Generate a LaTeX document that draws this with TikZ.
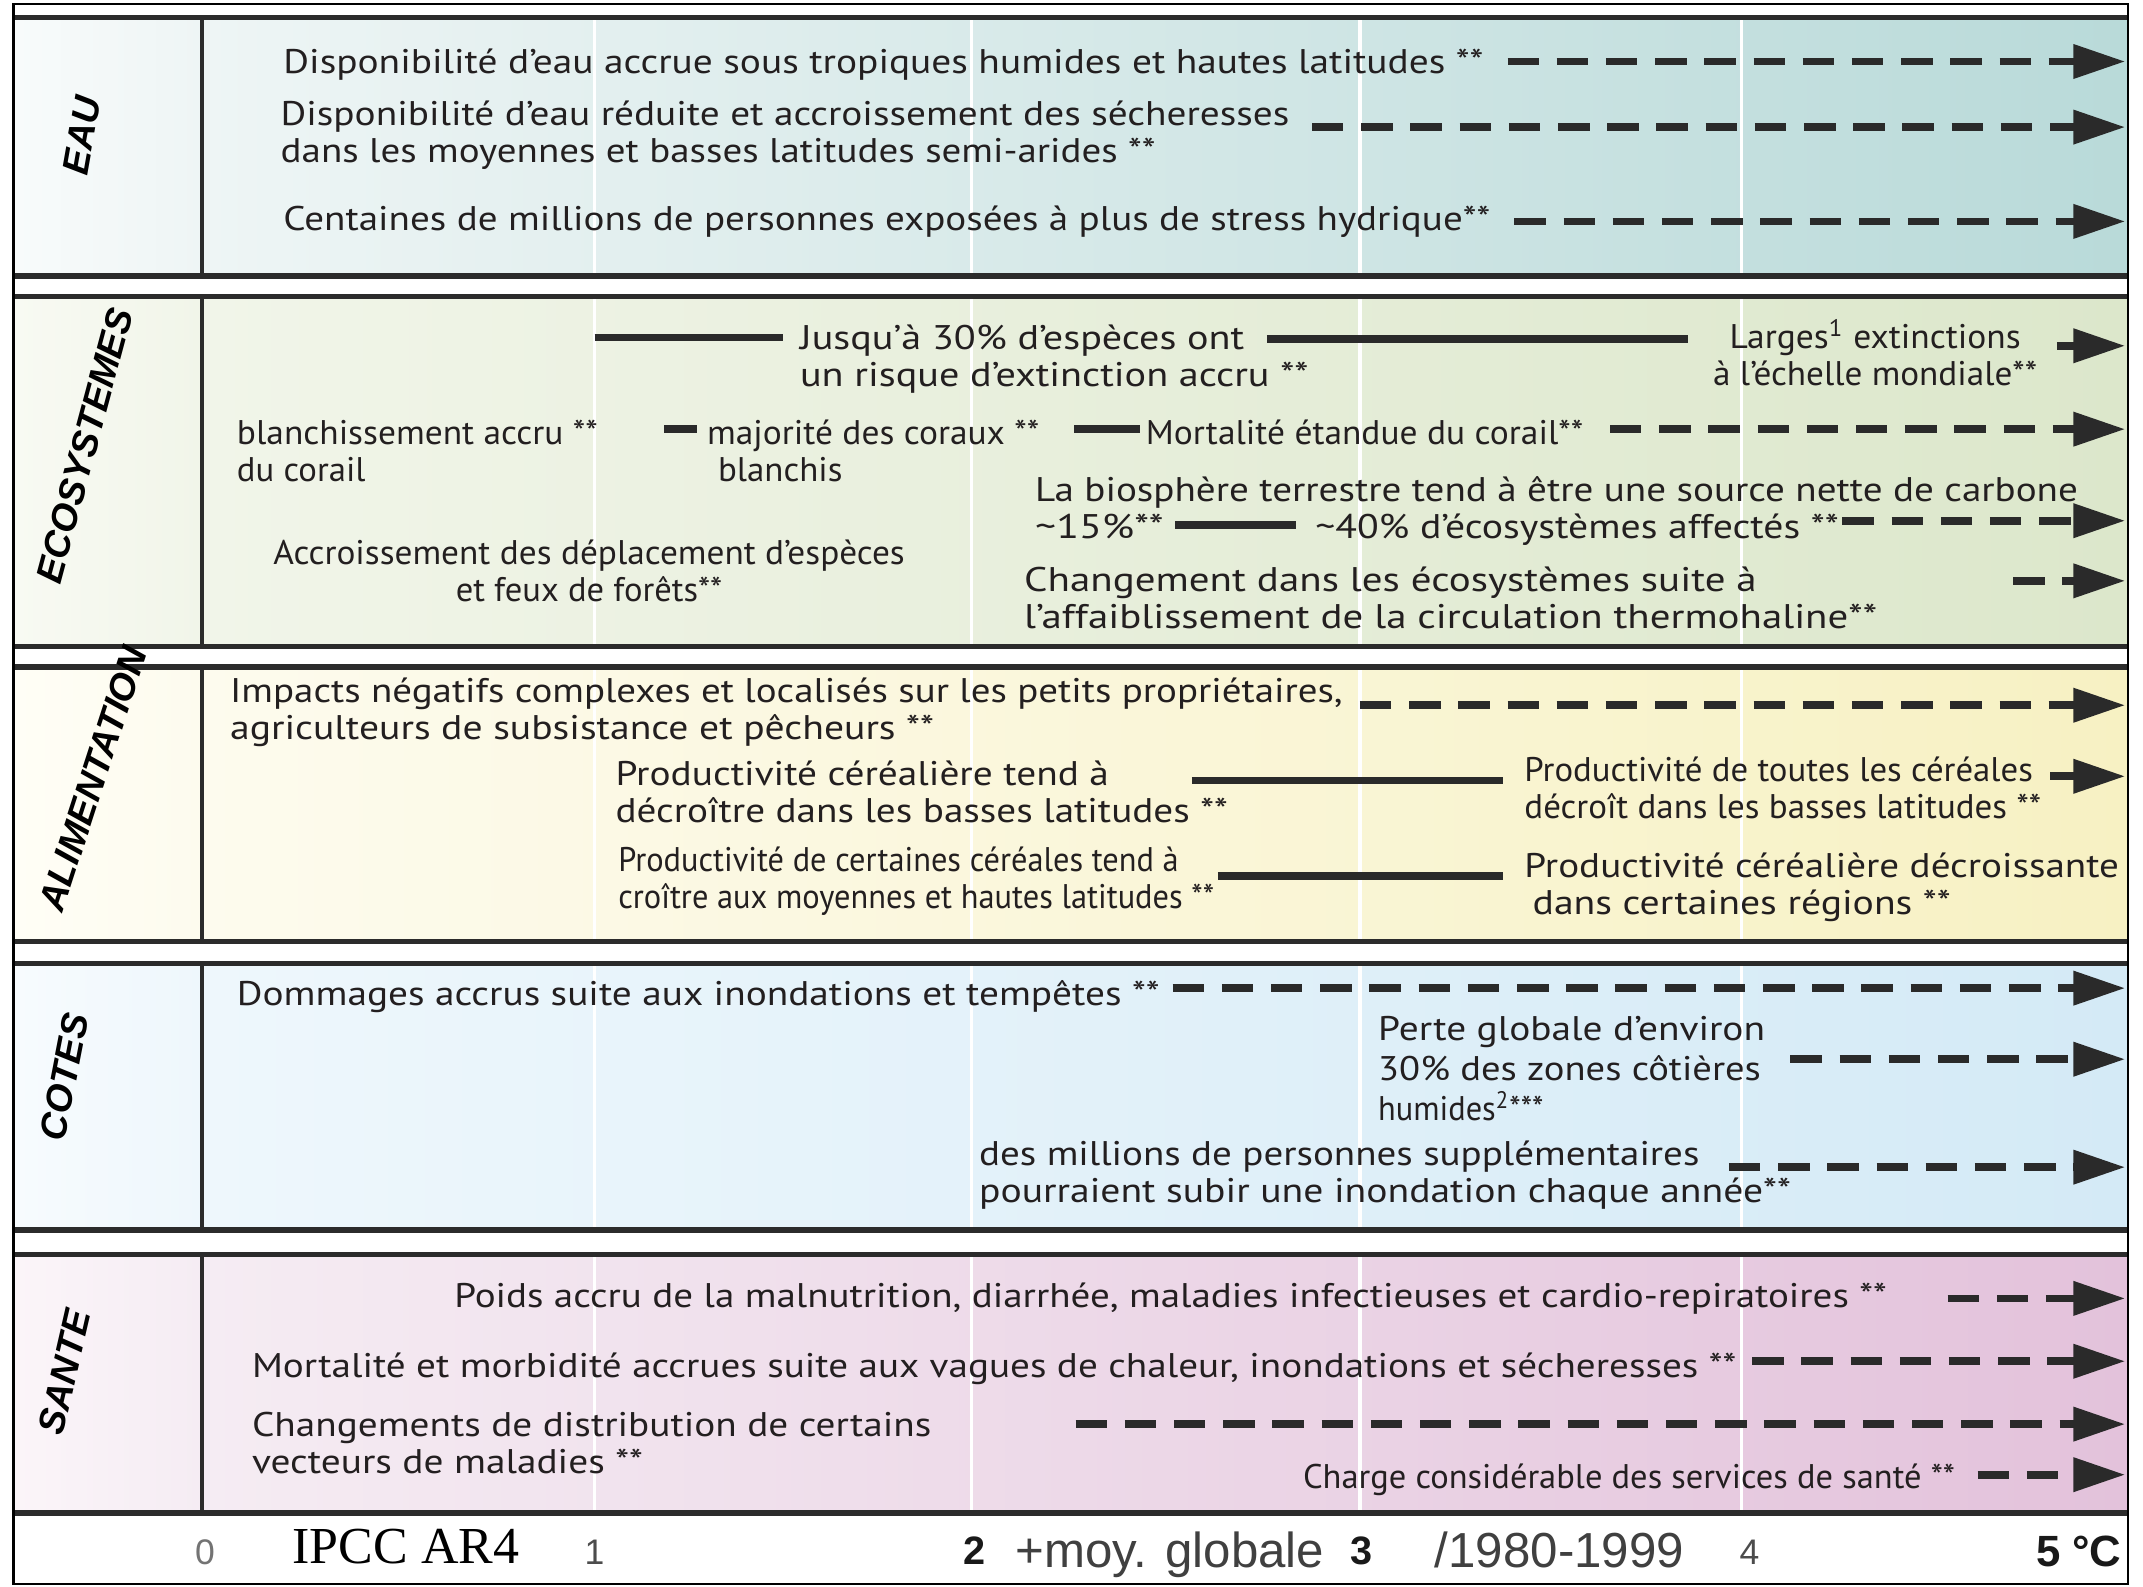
\documentclass[tikz,border=0pt]{standalone}
\usepackage{fontspec}
\usepackage{graphicx}
\usetikzlibrary{arrows.meta}
\newfontfamily\tf{PT Sans}
\newfontfamily\lf{Liberation Sans}
\newfontfamily\serf{Liberation Serif}
\newlength\pxu \setlength\pxu{0.5pt}
\newcommand\fw[2]{\resizebox{#1\pxu}{\height}{#2}}
\definecolor{txtc}{HTML}{231F20}
\definecolor{arrc}{HTML}{2A2A2A}
\definecolor{brd}{HTML}{2B2B2B}
\definecolor{eauA}{HTML}{F8FBFB}\definecolor{eauB}{HTML}{EEF5F5}\definecolor{eauC}{HTML}{B9DAD9}
\definecolor{ecoA}{HTML}{F8FAF3}\definecolor{ecoB}{HTML}{F1F5E9}\definecolor{ecoC}{HTML}{DCE7CB}
\definecolor{aliA}{HTML}{FFFEF6}\definecolor{aliB}{HTML}{FDFBEE}\definecolor{aliC}{HTML}{F7F1C3}
\definecolor{cotA}{HTML}{F7FBFE}\definecolor{cotB}{HTML}{EEF7FC}\definecolor{cotC}{HTML}{D4EAF6}
\definecolor{sanA}{HTML}{FBF5F9}\definecolor{sanB}{HTML}{F5ECF3}\definecolor{sanC}{HTML}{E3C2DB}
\tikzset{
  txt/.style={font=\tf\fontsize{12.5}{13.5}\selectfont, text=txtc, inner sep=0pt, anchor=base west, align=left},
  ctxt/.style={txt, anchor=base, align=center},
  lab/.style={font=\lf\bfseries\itshape\fontsize{13.6}{15}\selectfont, text=black, inner sep=0pt},
  axn/.style={font=\lf\fontsize{13}{15}\selectfont, text=black!70, inner sep=0pt, anchor=base},
  axb/.style={font=\lf\bfseries\fontsize{14.5}{16}\selectfont, text=black!90, inner sep=0pt, anchor=base},
  axt/.style={font=\lf\fontsize{18}{20}\selectfont, text=black!75, inner sep=0pt, anchor=base},
  dasharr/.style={line width=2.8pt, draw=arrc, dash pattern=on 11.5pt off 6.5pt, -{Triangle[length=19pt,width=12pt]}},
  solarr/.style={line width=2.8pt, draw=arrc, -{Triangle[length=19pt,width=12pt]}},
  segline/.style={line width=2.8pt, draw=arrc},
  bandline/.style={line width=2pt, draw=brd},
  gridw/.style={line width=1.2pt, draw=white},
}
\begin{document}
\begin{tikzpicture}[x=0.5pt,y=-0.5pt]
\useasboundingbox (0,0) rectangle (1568,1161);
\fill[white] (0,0) rectangle (1568,1161);
% band fills
\fill[left color=eauA,right color=eauB] (10,13) rectangle (148,202);
\fill[left color=eauB,right color=eauC] (148,13) rectangle (1557,202);
\fill[left color=ecoA,right color=ecoB] (10,217) rectangle (148,473);
\fill[left color=ecoB,right color=ecoC] (148,217) rectangle (1557,473);
\fill[left color=aliA,right color=aliB] (10,488) rectangle (148,689);
\fill[left color=aliB,right color=aliC] (148,488) rectangle (1557,689);
\fill[left color=cotA,right color=cotB] (10,705) rectangle (148,900);
\fill[left color=cotB,right color=cotC] (148,705) rectangle (1557,900);
\fill[left color=sanA,right color=sanB] (10,918) rectangle (148,1107);
\fill[left color=sanB,right color=sanC] (148,918) rectangle (1557,1107);
% white grid lines
\foreach \gx in {435,711,995,1274}{
  \foreach \ya/\yb in {13/202,217/473,488/689,705/900,918/1107}{
    \draw[gridw] (\gx,\ya) -- (\gx,\yb);
  }
}
% borders
\foreach \ya/\yb in {13/202,217/473,488/689,705/900,918/1107}{
  \draw[bandline] (10,\ya) -- (1557,\ya);
  \draw[bandline] (10,\yb) -- (1557,\yb);
  \draw[line width=1.5pt,draw=brd] (148,\ya) -- (148,\yb);
}
\draw[line width=1pt,draw=black] (10,3) rectangle (1557,1159);

% labels
\node[lab,rotate=80] (leau) at (60,99) {EAU};
\node[lab,rotate=75] (leco) at (62,326) {ECOSYSTEMES};
\node[lab,rotate=72] (lali) at (68,570) {ALIMENTATION};
\node[lab,rotate=79] (lcot) at (47,788) {COTES};
\node[lab,rotate=77] (lsan) at (47,1004) {SANTE};

% ---------- EAU
\node[txt] (t1) at (207,54) {\fw{878}{Disponibilité d’eau accrue sous tropiques humides et hautes latitudes **}};
\node[txt] (t2) at (205,119) {\fw{738}{Disponibilité d’eau réduite et accroissement des sécheresses}\\\fw{640}{dans les moyennes et basses latitudes semi-arides **}};
\node[txt] (t3) at (207,169) {\fw{883}{Centaines de millions de personnes exposées à plus de stress hydrique**}};
\coordinate (t1s) at (1103,45); \coordinate (t1e) at (1555,45);
\coordinate (t2s) at (960,93);  \coordinate (t2e) at (1555,93);
\coordinate (t3s) at (1108,162); \coordinate (t3e) at (1555,162);
\draw[dasharr] (t1s) -- (t1e);
\draw[dasharr] (t2s) -- (t2e);
\draw[dasharr] (t3s) -- (t3e);

% ---------- ECOSYSTEMES
\coordinate (e1s) at (435,247);
\node[txt] (e1) at (585,283) {\fw{325}{Jusqu’à 30\% d’espèces ont}\\\fw{372}{un risque d’extinction accru **}};
\coordinate (e1m) at (927,248); \coordinate (e1n) at (1235,248);
\draw[segline] (e1s) -- (573,247);
\draw[segline] (e1m) -- (e1n);
\node[ctxt] (e1b) at (1372,282) {\fw{213}{Larges\textsuperscript{1} extinctions}\\\fw{237}{à l’échelle mondiale**}};
\coordinate (e1as) at (1505,253); \coordinate (e1ae) at (1555,253);
\draw[solarr] (e1as) -- (e1ae);

\node[txt] (e2) at (173,352) {\fw{264}{blanchissement accru **}\\\fw{94}{du corail}};
\coordinate (e2s) at (486,314); \coordinate (e2t) at (510,314);
\draw[segline] (e2s) -- (e2t);
\node[txt] (e2b) at (517,352) {\fw{243}{majorité des coraux **}\\\hspace*{4pt}\fw{91}{blanchis}};
\coordinate (e2u) at (786,314); \coordinate (e2v) at (834,314);
\draw[segline] (e2u) -- (e2v);
\node[txt] (e2c) at (838,325) {\fw{320}{Mortalité étandue du corail**}};
\coordinate (e2as) at (1178,314); \coordinate (e2ae) at (1555,314);
\draw[dasharr] (e2as) -- (e2ae);

\node[txt] (e3) at (757,367) {\fw{763}{La biosphère terrestre tend à être une source nette de carbone}};
\node[txt] (e3b) at (757,394) {\fw{94}{\textasciitilde15\%**}};
\coordinate (e3s) at (860,384); \coordinate (e3t) at (948,384);
\draw[segline] (e3s) -- (e3t);
\node[txt] (e3c) at (962,394) {\fw{383}{\textasciitilde40\% d’écosystèmes affectés **}};
\coordinate (e3as) at (1348,381); \coordinate (e3ae) at (1555,381);
\draw[dasharr] (e3as) -- (e3ae);

\node[ctxt] (e4) at (431,440) {\fw{462}{Accroissement des déplacement d’espèces}\\\fw{195}{et feux de forêts**}};

\node[txt] (e5) at (749,460) {\fw{536}{Changement dans les écosystèmes suite à}\\\fw{624}{l’affaiblissement de la circulation thermohaline**}};
\coordinate (e5as) at (1473,425); \coordinate (e5ae) at (1555,425);
\draw[dasharr] (e5as) -- (e5ae);

% ---------- ALIMENTATION
\node[txt] (a1) at (168,541) {\fw{814}{Impacts négatifs complexes et localisés sur les petits propriétaires,}\\\fw{515}{agriculteurs de subsistance et pêcheurs **}};
\coordinate (a1as) at (995,516); \coordinate (a1ae) at (1555,516);
\draw[dasharr] (a1as) -- (a1ae);
\node[txt] (a2) at (450,602) {\fw{361}{Productivité céréalière tend à}\\\fw{448}{décroître dans les basses latitudes **}};
\coordinate (a2s) at (872,571); \coordinate (a2t) at (1100,571);
\draw[segline] (a2s) -- (a2t);
\node[txt] (a2b) at (1115,599) {\fw{372}{Productivité de toutes les céréales}\\\fw{378}{décroît dans les basses latitudes **}};
\coordinate (a2as) at (1500,568); \coordinate (a2ae) at (1555,568);
\draw[solarr] (a2as) -- (a2ae);
\node[txt] (a3) at (452,665) {\fw{410}{Productivité de certaines céréales tend à}\\\fw{436}{croître aux moyennes et hautes latitudes **}};
\coordinate (a3s) at (891,641); \coordinate (a3t) at (1100,641);
\draw[segline] (a3s) -- (a3t);
\node[txt] (a3b) at (1115,669) {\fw{435}{Productivité céréalière décroissante}\\\hspace*{3pt}\fw{306}{dans certaines régions **}};

% ---------- COTES
\node[txt] (c1) at (173,736) {\fw{675}{Dommages accrus suite aux inondations et tempêtes **}};
\coordinate (c1as) at (858,723); \coordinate (c1ae) at (1555,723);
\draw[dasharr] (c1as) -- (c1ae);
\node[txt, font=\tf\fontsize{12.5}{14.75}\selectfont] (c2) at (1008,820) {\fw{283}{Perte globale d’environ}\\\fw{280}{30\% des zones côtières}\\\fw{121}{humides\textsuperscript{2}***}};
\coordinate (c2as) at (1310,775); \coordinate (c2ae) at (1555,775);
\draw[dasharr] (c2as) -- (c2ae);
\node[txt] (c3) at (716,880) {\fw{527}{des millions de personnes supplémentaires}\\\fw{594}{pourraient subir une inondation chaque année**}};
\coordinate (c3as) at (1265,854); \coordinate (c3ae) at (1555,854);
\draw[dasharr] (c3as) -- (c3ae);

% ---------- SANTE
\node[txt] (s1) at (332,957) {\fw{1048}{Poids accru de la malnutrition, diarrhée, maladies infectieuses et cardio-repiratoires **}};
\coordinate (s1as) at (1425,950); \coordinate (s1ae) at (1555,950);
\draw[dasharr] (s1as) -- (s1ae);
\node[txt] (s2) at (184,1008) {\fw{1086}{Mortalité et morbidité accrues suite aux vagues de chaleur, inondations et sécheresses **}};
\coordinate (s2as) at (1282,996); \coordinate (s2ae) at (1555,996);
\draw[dasharr] (s2as) -- (s2ae);
\node[txt] (s3) at (184,1078) {\fw{497}{Changements de distribution de certains}\\\fw{286}{vecteurs de maladies **}};
\coordinate (s3as) at (787,1042); \coordinate (s3ae) at (1555,1042);
\draw[dasharr] (s3as) -- (s3ae);
\node[txt] (s4) at (953,1089) {\fw{477}{Charge considérable des services de santé **}};
\coordinate (s4as) at (1447,1079); \coordinate (s4ae) at (1555,1079);
\draw[dasharr] (s4as) -- (s4ae);

% ---------- axis
\node[axn, text=black!55] (x0) at (150,1145) {0};
\node[font=\serf\fontsize{19}{21}\selectfont, inner sep=0pt, anchor=base] (ipcc) at (297,1144) {IPCC AR4};
\node[axn] (x1) at (435,1145) {1};
\node[axb] (x2) at (713,1145) {2};
\node[axt] (moy) at (856,1147) {+moy. globale};
\node[axb] (x3) at (996,1145) {3};
\node[axt] (per) at (1141,1147) {/1980-1999};
\node[axn] (x4) at (1280,1145) {4};
\node[axb, font=\lf\bfseries\fontsize{16}{18}\selectfont] (x5) at (1521,1146) {5 °C};
\end{tikzpicture}
\end{document}
